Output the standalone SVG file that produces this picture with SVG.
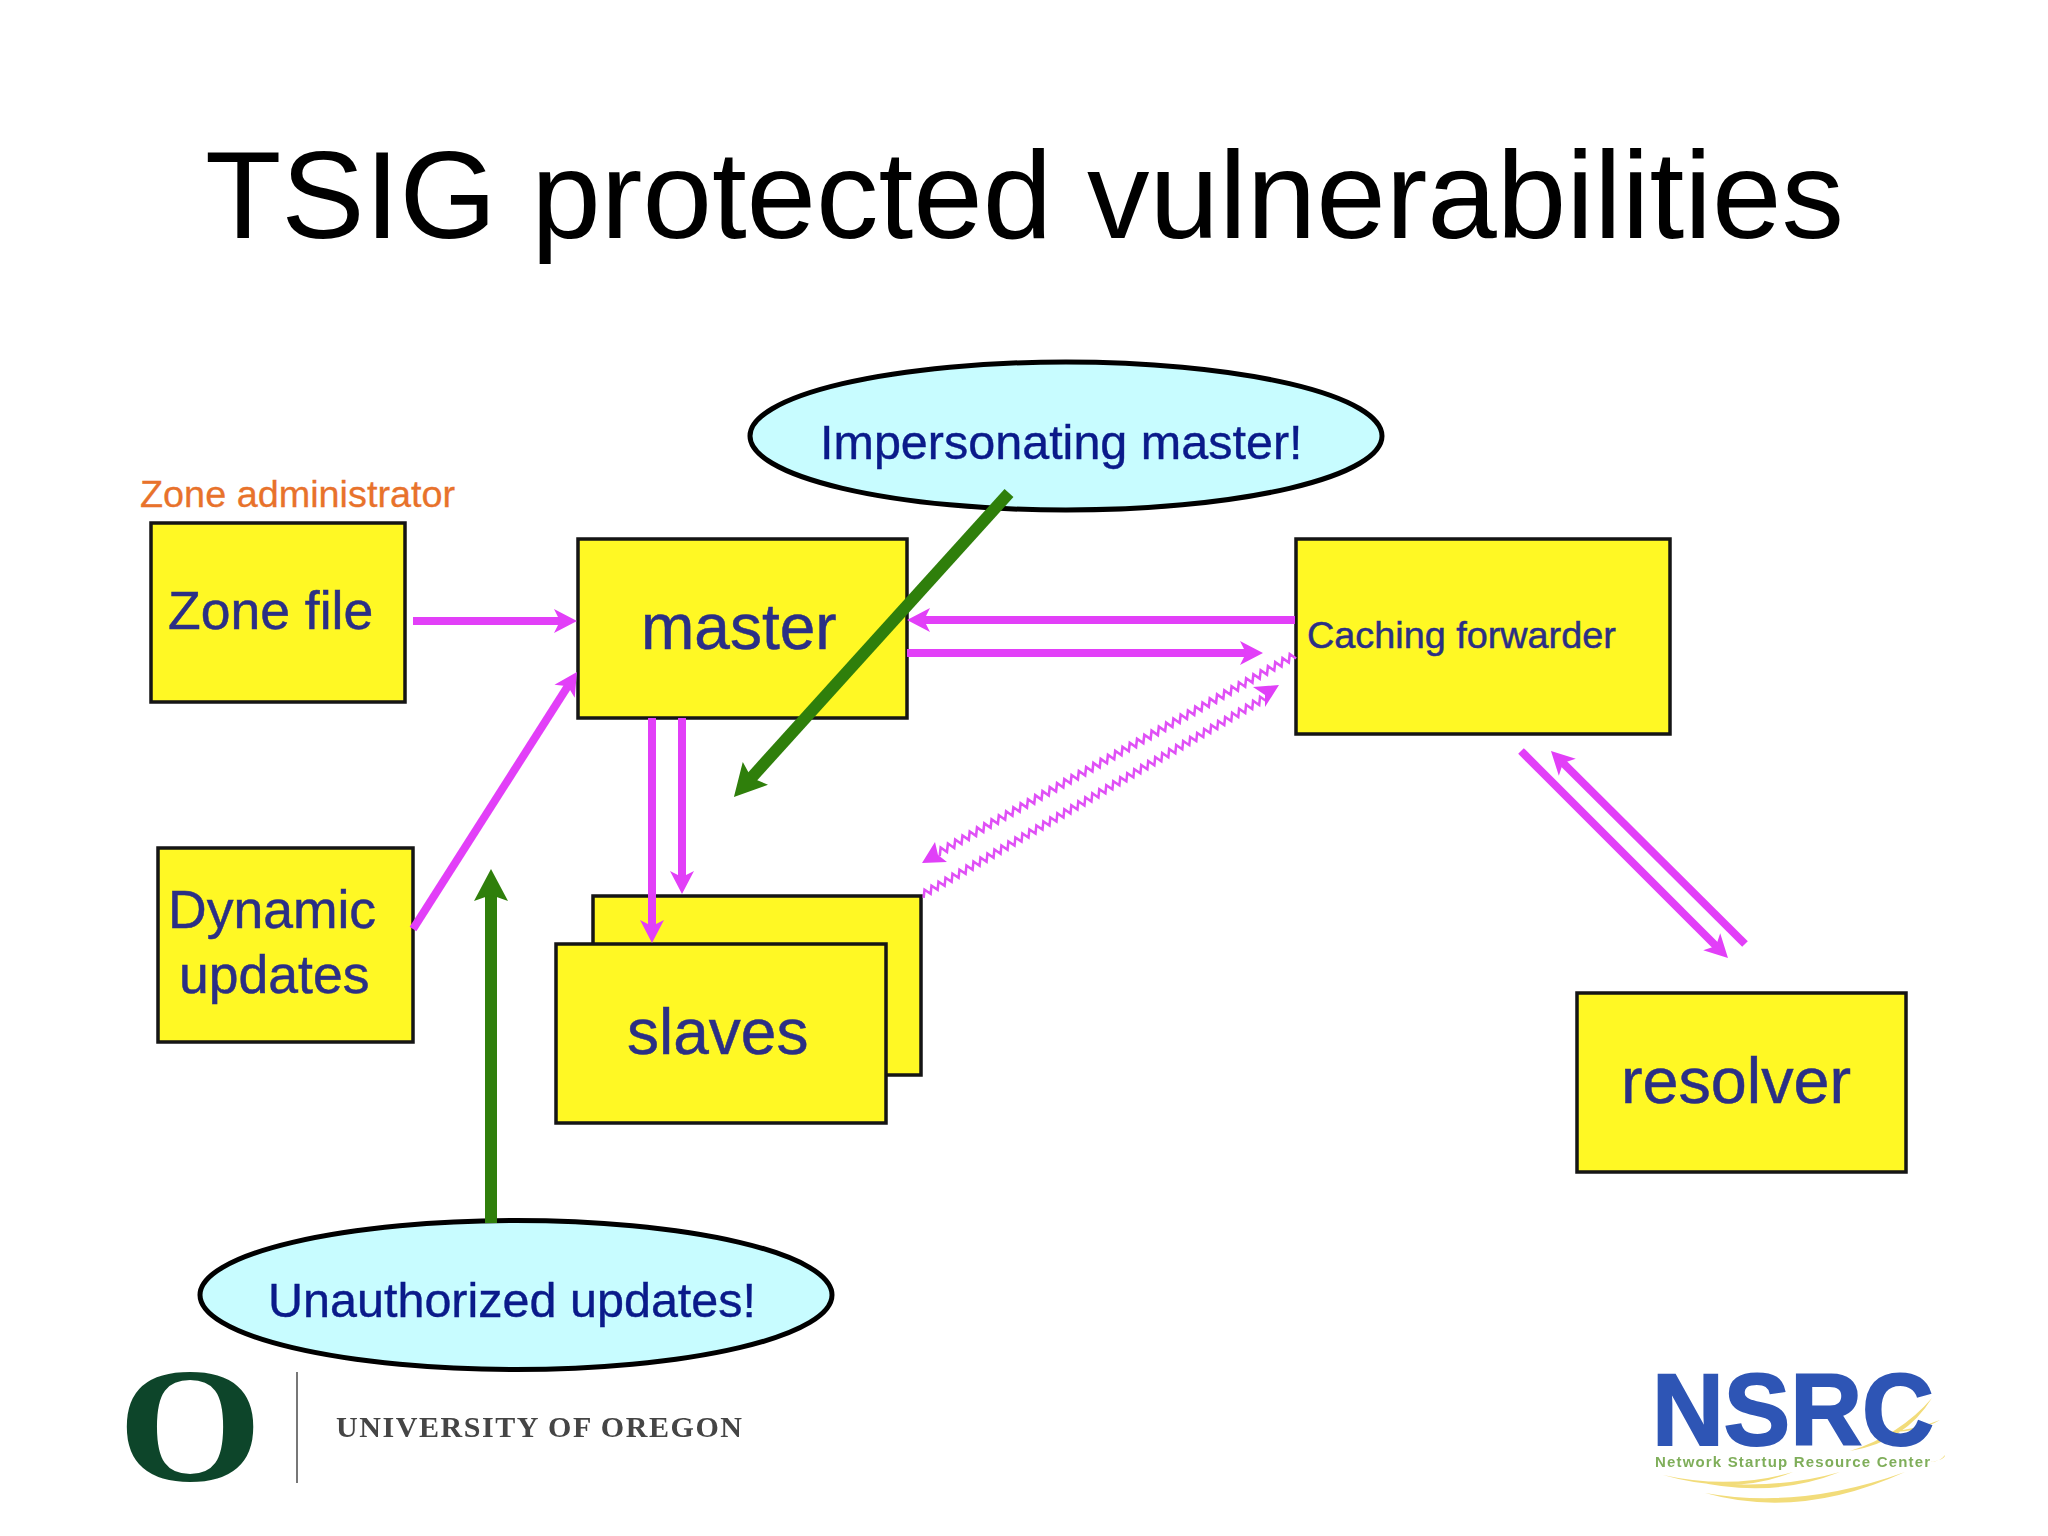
<svg xmlns="http://www.w3.org/2000/svg" xmlns:xlink="http://www.w3.org/1999/xlink" width="2048" height="1536" viewBox="0 0 2048 1536">
<style>
text{font-family:"Liberation Sans",Arial,sans-serif}
.box{fill:#fff824;stroke:#151515;stroke-width:3.5}
.oval{fill:#c8fcff;stroke:#000;stroke-width:5}
.t{fill:#2b2f85;stroke:#2b2f85;stroke-width:.5}
.o{fill:#0a1a8a;stroke:#0a1a8a;stroke-width:.4}
.m{fill:none;stroke:#e23ff8;stroke-width:8}
.g{fill:none;stroke:#2f7f0b;stroke-width:12}
.w{fill:none;stroke:#e050f6;stroke-width:2.6}
.wh{fill:#e040f8}
</style>
<defs>
<marker id="mh" markerUnits="userSpaceOnUse" markerWidth="40" markerHeight="30" viewBox="-25 -15 40 30" refX="0" refY="0" orient="auto" overflow="visible"><path d="M12 0L-11 -12L-5 0L-11 12Z" fill="#e23ff8"/></marker>
<marker id="gh" markerUnits="userSpaceOnUse" markerWidth="60" markerHeight="44" viewBox="-34 -22 60 44" refX="0" refY="0" orient="auto" overflow="visible"><path d="M18 0L-14 -17L-8 0L-14 17Z" fill="#2f7f0b"/></marker>
<path id="zig" d="M0 3.5l5 -7 3.4 7 5 -7 3.4 7 5 -7 3.4 7 5 -7 3.4 7 5 -7 3.4 7 5 -7 3.4 7 5 -7 3.4 7 5 -7 3.4 7 5 -7 3.4 7 5 -7 3.4 7
 5 -7 3.4 7 5 -7 3.4 7 5 -7 3.4 7 5 -7 3.4 7 5 -7 3.4 7 5 -7 3.4 7 5 -7 3.4 7 5 -7 3.4 7 5 -7 3.4 7 5 -7 3.4 7
 5 -7 3.4 7 5 -7 3.4 7 5 -7 3.4 7 5 -7 3.4 7 5 -7 3.4 7 5 -7 3.4 7 5 -7 3.4 7 5 -7 3.4 7 5 -7 3.4 7 5 -7 3.4 7
 5 -7 3.4 7 5 -7 3.4 7 5 -7 3.4 7 5 -7 3.4 7 5 -7 3.4 7 5 -7 3.4 7 5 -7 3.4 7 5 -7 3.4 7 5 -7 3.4 7 5 -7 3.4 7
 5 -7 3.4 7 5 -7 3.4 7 5 -7 3.4 7 5 -7 3.4 7 5 -7 3.4 7 5 -7 3.4 7 5 -7 3.4 7 5 -7 3.4 7 5 -7 3.4 7"/>
<filter id="soft" x="-5%" y="-5%" width="110%" height="110%"><feGaussianBlur stdDeviation="0.7"/></filter>
</defs>
<rect width="2048" height="1536" fill="#fff"/>
<text id="title" x="205" y="238" font-size="125" textLength="1639" lengthAdjust="spacingAndGlyphs" fill="#000">TSIG protected vulnerabilities</text>
<text id="zone-admin" x="140" y="507" font-size="37.8" fill="#e8722b" stroke="#e8722b" stroke-width=".3">Zone administrator</text>

<g id="node-zone-file"><rect class="box" x="151" y="523" width="254" height="179"/><text class="t" x="168" y="629" font-size="53.5">Zone file</text></g>
<g id="node-master"><rect class="box" x="578" y="539" width="329" height="179"/><text class="t" x="641" y="649" font-size="64">master</text></g>
<g id="node-caching"><rect class="box" x="1296" y="539" width="374" height="195"/><text class="t" x="1307" y="648" font-size="37.8">Caching forwarder</text></g>
<g id="node-dynamic"><rect class="box" x="158" y="848" width="255" height="194"/><text class="t" x="168" y="928" font-size="53.5">Dynamic</text><text class="t" x="179" y="993" font-size="53.5">updates</text></g>
<g id="node-slaves"><rect class="box" x="593" y="896" width="328" height="179"/><rect class="box" x="556" y="944" width="330" height="179"/><text class="t" x="627" y="1054" font-size="64">slaves</text></g>
<g id="node-resolver"><rect class="box" x="1577" y="993" width="329" height="179"/><text class="t" x="1621" y="1103" font-size="64.7">resolver</text></g>
<g id="node-impersonating"><ellipse class="oval" cx="1066" cy="436" rx="316" ry="74"/><text class="o" x="820" y="459" font-size="48.5">Impersonating master!</text></g>
<g id="node-unauthorized"><ellipse class="oval" cx="516" cy="1295" rx="316" ry="74.5"/><text class="o" x="268" y="1317" font-size="48.5">Unauthorized updates!</text></g>

<g id="connectors">
<line class="m" x1="413" y1="621" x2="565" y2="621" marker-end="url(#mh)"/>
<line class="m" x1="1295" y1="620" x2="919" y2="620" marker-end="url(#mh)"/>
<line class="m" x1="907" y1="653" x2="1251" y2="653" marker-end="url(#mh)"/>
<line class="m" x1="413" y1="929" x2="570.5" y2="682" marker-end="url(#mh)"/>
<line class="m" x1="652" y1="718" x2="652" y2="931" marker-end="url(#mh)"/>
<line class="m" x1="682" y1="718" x2="682" y2="882" marker-end="url(#mh)"/>
<line class="m" x1="1521" y1="751" x2="1719.5" y2="949.5" marker-end="url(#mh)"/>
<line class="m" x1="1745" y1="944" x2="1559.5" y2="759.5" marker-end="url(#mh)"/>
<use class="w" xlink:href="#zig" href="#zig" transform="translate(938 853) rotate(-29) scale(.99)"/>
<path class="wh" d="M922 863L935 842L938 855L947 862Z"/>
<use class="w" xlink:href="#zig" href="#zig" transform="translate(922 895) rotate(-29.9) scale(.96)"/>
<path class="wh" d="M1279 685L1253 687L1265 695L1265 707Z"/>
<line class="g" x1="1009" y1="493" x2="746" y2="783.7" marker-end="url(#gh)"/>
<line class="g" x1="491" y1="1223" x2="491" y2="887" marker-end="url(#gh)"/>
</g>

<g id="logo-oregon" filter="url(#soft)">
<text x="0" y="0" transform="translate(190 1480) scale(1.14 1)" text-anchor="middle" font-size="163" font-weight="bold" fill="#0e4429" style="font-family:'Liberation Serif',serif">O</text>
<line x1="297" y1="1372" x2="297" y2="1483" stroke="#777" stroke-width="2"/>
<text x="336" y="1437" font-size="30" font-weight="bold" fill="#444" textLength="406" style="font-family:'Liberation Serif',serif">UNIVERSITY OF OREGON</text>
</g>
<g id="logo-nsrc" filter="url(#soft)">
<path d="M1663 1475Q1730 1490 1793 1472Q1735 1496 1663 1475ZM1690 1480Q1770 1492 1840 1472Q1770 1500 1690 1480ZM1705 1493Q1800 1510 1905 1472Q1800 1520 1705 1493ZM1850 1451Q1900 1435 1932 1398Q1905 1442 1850 1451ZM1890 1432Q1920 1428 1940 1420Q1920 1432 1890 1432ZM1930 1462Q1945 1460 1945 1455Q1940 1462 1930 1462Z" fill="#f2dc7a"/>
<text x="1652" y="1445" font-size="102" font-weight="bold" fill="#2f55b5" stroke="#2f55b5" stroke-width="2" textLength="282" lengthAdjust="spacingAndGlyphs">NSRC</text>
<text x="1655" y="1467" font-size="15" font-weight="bold" fill="#7fae5a" textLength="275">Network Startup Resource Center</text>
</g>
</svg>
